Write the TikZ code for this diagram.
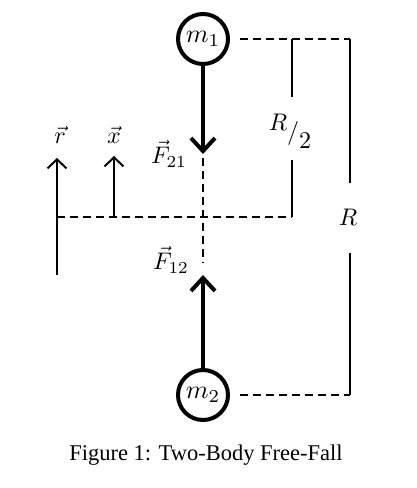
\documentclass[tikz,border=0pt]{standalone}
\usepackage{fontspec}
\setmainfont{Liberation Serif}
\usetikzlibrary{arrows.meta}
\newcommand{\massText}[1]{\scalebox{2.6}{$#1$}}
\newcommand{\lblText}[1]{\scalebox{2.4}{$#1$}}
\begin{document}
\begin{tikzpicture}[x=1pt,y=-1pt,
  mass/.style={circle,draw,line width=4pt,minimum size=50pt,inner sep=0pt},
  force/.style={line width=4pt,-{Straight Barb[length=13pt,width=24pt,line width=4pt]}},
  axis/.style={line width=2pt,-{Straight Barb[length=9pt,width=19pt,line width=2pt]}},
  guide/.style={line width=2pt,dash pattern=on 8pt off 5pt},
  bracket/.style={line width=2pt},
  lbl/.style={inner sep=0pt},
]
\useasboundingbox (0,0) rectangle (416,488);
% masses
\node[mass] (m1) at (203,39) {\massText{m_1}};
\node[mass] (m2) at (203,395) {\massText{m_2}};
% coordinates
\coordinate (t21) at (203,154);
\coordinate (t12) at (203,275);
\coordinate (ca) at (203,158);
\coordinate (cb) at (203,263);
\coordinate (hl) at (57,217);
\coordinate (hr) at (292,217);
\coordinate (a1) at (240,39);
\coordinate (a2) at (350,39);
\coordinate (b1) at (240,395);
\coordinate (b2) at (350,395);
\coordinate (h1) at (292,39);
\coordinate (h2) at (292,97);
\coordinate (h3) at (292,160);
\coordinate (r1) at (350,183);
\coordinate (r2) at (350,253);
\coordinate (rb) at (57,275);
\coordinate (rt) at (57,158);
\coordinate (xb) at (114,217);
\coordinate (xt) at (114,156);
% forces
\draw[force] (m1.south) -- (t21);
\draw[force] (m2.north) -- (t12);
% guides
\draw[guide] (ca) -- (cb);
\draw[guide] (hl) -- (hr);
\draw[guide] (a1) -- (a2);
\draw[guide] (b1) -- (b2);
% brackets
\draw[bracket] (h1) -- (h2);
\draw[bracket] (h3) -- (hr);
\draw[bracket] (a2) -- (r1);
\draw[bracket] (r2) -- (b2);
% axes
\draw[axis] (rb) -- (rt);
\draw[axis] (xb) -- (xt);
% labels
\node[lbl] (lr) at (60,135) {\lblText{\vec r}};
\node[lbl] (lx) at (114,135) {\lblText{\vec x}};
\node[lbl] (lf21) at (169,154) {\lblText{\vec F_{21}}};
\node[lbl] (lf12) at (171,260) {\lblText{\vec F_{12}}};
\node[lbl] (lh) at (290,131) {\lblText{\raisebox{3.8pt}{$R$}/\raisebox{-3.8pt}{$2$}}};
\node[lbl] (lR) at (348,217) {\lblText{R}};
\node[inner sep=0pt,font=\fontsize{22.5}{26}\selectfont] (cap) at (206,455) {Figure 1: Two-Body Free-Fall};
\end{tikzpicture}
\end{document}
